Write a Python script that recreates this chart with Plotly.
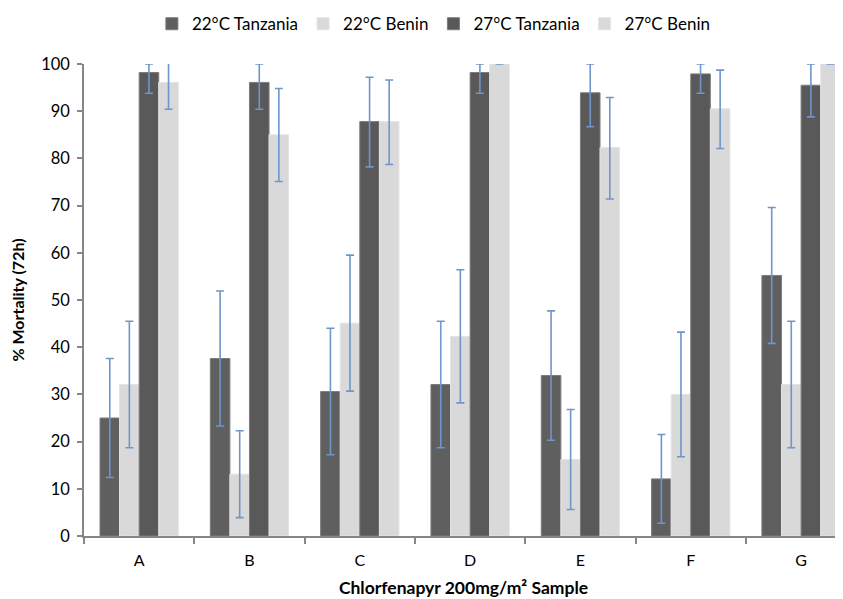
import plotly.graph_objects as go

samples = ["A", "B", "C", "D", "E", "F", "G"]
series_names = ["22°C Tanzania", "22°C Benin", "27°C Tanzania", "27°C Benin"]

t22 = [25.0, 37.6, 30.6, 32.1, 34.0, 12.1, 55.2]
t22_err = [12.6, 14.3, 13.4, 13.4, 13.7, 9.4, 14.4]

b22 = [32.1, 13.1, 45.1, 42.3, 16.2, 30.0, 32.1]
b22_err = [13.4, 9.2, 14.4, 14.1, 10.6, 13.2, 13.4]

t27 = [98.2, 96.1, 87.8, 98.2, 93.9, 97.9, 95.5]
t27_err_up = [1.8, 3.9, 9.4, 1.8, 6.1, 2.1, 4.5]
t27_err_dn = [4.4, 5.7, 9.6, 4.4, 7.2, 4.1, 6.7]

b27 = [96.1, 85.0, 87.8, 100.0, 82.3, 90.5, 100.0]
b27_err_up = [5.7, 9.8, 8.8, 0.0, 10.6, 8.2, 0.0]
b27_err_dn = [5.7, 9.9, 9.1, 0.0, 10.9, 8.4, 0.0]

yticks = [0, 10, 20, 30, 40, 50, 60, 70, 80, 90, 100]

FONT = "Lato, Open Sans, sans-serif"
ERR_COLOR = "#6f95c9"

def err(up, dn=None):
    d = dict(type="data", array=up, color=ERR_COLOR, thickness=1.6, width=4, visible=True)
    if dn is not None:
        d["symmetric"] = False
        d["arrayminus"] = dn
    return d

fig = go.Figure()
fig.add_trace(go.Bar(name=series_names[0], x=samples, y=t22,
                     marker=dict(color="#5f5f5f", line=dict(color="#7c7c7c", width=1)),
                     error_y=err(t22_err)))
fig.add_trace(go.Bar(name=series_names[1], x=samples, y=b22,
                     marker=dict(color="#d9d9d9", line=dict(color="#e4e4e4", width=1)),
                     error_y=err(b22_err)))
fig.add_trace(go.Bar(name=series_names[2], x=samples, y=t27,
                     marker=dict(color="#595959", line=dict(color="#7c7c7c", width=1)),
                     error_y=err(t27_err_up, t27_err_dn)))
fig.add_trace(go.Bar(name=series_names[3], x=samples, y=b27,
                     marker=dict(color="#d9d9d9", line=dict(color="#e4e4e4", width=1)),
                     error_y=err(b27_err_up, b27_err_dn)))

fig.update_layout(
    width=843, height=599,
    margin=dict(l=76, r=8, t=56, b=71),
    paper_bgcolor="white", plot_bgcolor="white",
    barmode="group", bargap=0.29, bargroupgap=0,
    font=dict(family=FONT, size=14, color="#000000"),
    showlegend=True,
    legend=dict(orientation="h", x=0.461, xanchor="center", xref="paper",
                y=0.973, yanchor="middle", yref="container",
                font=dict(family=FONT, size=17, color="#000000"),
                traceorder="normal", itemwidth=30),
    xaxis=dict(
        type="category", range=[-0.5, 6.38],
        showline=True, linecolor="#868686", linewidth=1.5,
        ticks="outside", tickson="boundaries", ticklen=6, tickcolor="#868686", tickwidth=1.5,
        ticklabelstandoff=9,
        showgrid=False, zeroline=False, automargin=False,
        tickfont=dict(family=FONT, size=16),
        title=dict(text="<b>Chlorfenapyr 200mg/m² Sample</b>", font=dict(family=FONT, size=17.5), standoff=14),
    ),
    yaxis=dict(
        range=[0, 100], tickvals=yticks,
        showline=True, linecolor="#868686", linewidth=1.5,
        ticks="outside", ticklen=5, tickcolor="#868686", tickwidth=1.5,
        ticklabelstandoff=4,
        showgrid=False, zeroline=False, automargin=False,
        tickfont=dict(family=FONT, size=16.5),
        title=dict(text="<b>% Mortality (72h)</b>", font=dict(family=FONT, size=16), standoff=13),
    ),
)

fig.write_html("out.html")
